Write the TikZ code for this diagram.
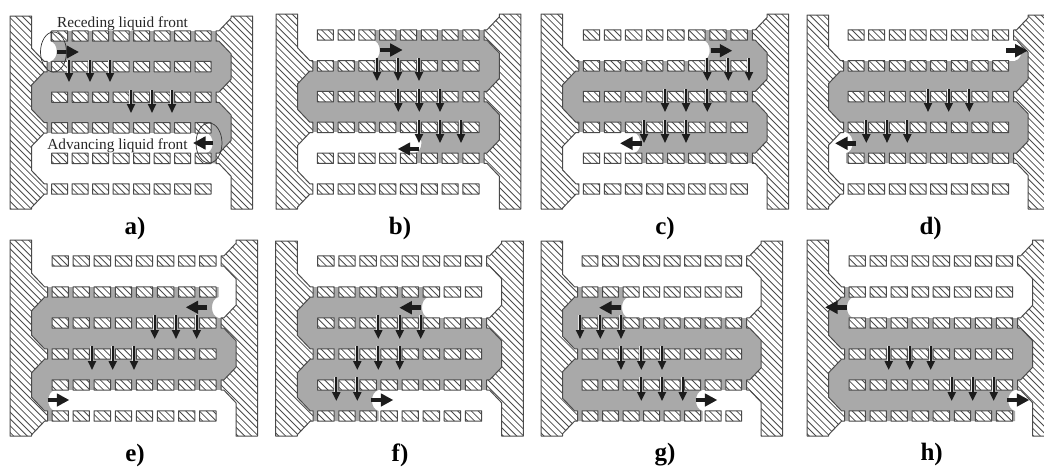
\documentclass[tikz,border=0pt]{standalone}
\usepackage{fontspec}
\setmainfont{Liberation Serif}
\usetikzlibrary{arrows.meta}
\definecolor{liqgrey}{HTML}{A9A9A9}
\definecolor{wallink}{HTML}{4A4A4A}
\definecolor{inkdark}{HTML}{1C1C1C}
\tikzset{
  liquid/.style={fill=liqgrey,draw=none},
  wallbody/.style={fill=white,draw=none},
  walledge/.style={draw=wallink,line width=1pt,line join=round},
  hatchline/.style={draw=wallink,line width=0.8pt},
  bigarrow/.style={draw=inkdark,line width=4.8pt,-{Triangle[length=12.5pt,width=12.5pt]}},
  downhalo/.style={draw=white!70!liqgrey,line width=2.8pt},
  downstem/.style={draw=inkdark,line width=2pt,-{Triangle[length=9pt,width=8pt]}},
  panellabel/.style={font=\fontsize{25}{27}\selectfont\bfseries,inner sep=0pt},
  notelabel/.style={font=\fontsize{15.3}{17}\selectfont,inner sep=0pt,text=black!85},
  ringmark/.style={draw=black!80,line width=0.7pt}
}
% panel geometry: plate left, first pillar x, last pillar end, right plate inner x, top, row 1 y, row pitch
\newcommand{\setpanel}[7]{%
  \def\xL{#1}\def\pA{#2}\def\pB{#3}\def\xR{#4}\def\yT{#5}\def\rA{#6}\def\rS{#7}%
  \pgfmathsetmacro\xLi{\xL+21.6}%
  \pgfmathsetmacro\xRo{\xR+21.6}%
  \pgfmathsetmacro\yB{\rA+5*\rS+20}%
  \pgfmathsetmacro\tipL{\pA-4.5}%
  \pgfmathsetmacro\tipR{\pB+5}%
  \pgfmathsetmacro\dL{\tipL-3-\xLi}%
  \pgfmathsetmacro\dR{\xR-\tipR-3}%
  \pgfmathsetmacro\pit{(\pB-\pA)/7.777}%
  \pgfmathsetmacro\pw{0.777*\pit}%
}
\newcommand{\chfull}[1]{%
  \fill[liquid] ({\xL+5},{\rA+(#1-1)*\rS-5}) rectangle ({\xR+5},{\rA+#1*\rS+5});}
% liquid right of the front
\newcommand{\chL}[2]{%
  \pgfmathsetmacro\ya{\rA+(#1-1)*\rS-5}\pgfmathsetmacro\yb{\rA+#1*\rS+5}%
  \fill[liquid] ({#2-7},{\ya}) -- ({#2-7},{\ya+10})
    .. controls ({#2+2},{\ya+12}) and ({#2+2},{\yb-12}) .. ({#2-7},{\yb-10})
    -- ({#2-7},{\yb}) -- ({\xR+5},{\yb}) -- ({\xR+5},{\ya}) -- cycle;}
% liquid left of the front
\newcommand{\chR}[2]{%
  \pgfmathsetmacro\ya{\rA+(#1-1)*\rS-5}\pgfmathsetmacro\yb{\rA+#1*\rS+5}%
  \fill[liquid] ({#2+7},{\ya}) -- ({#2+7},{\ya+10})
    .. controls ({#2-2},{\ya+12}) and ({#2-2},{\yb-12}) .. ({#2+7},{\yb-10})
    -- ({#2+7},{\yb}) -- ({\xL+5},{\yb}) -- ({\xL+5},{\ya}) -- cycle;}
\newcommand{\wallshape}{%
  ({\xL},{\yT}) -- ({\xLi},{\yT})
  \foreach \k in {2,4,6}{
    -- ({\xLi},{\rA+(\k-1)*\rS-5.2-\dL*1.05})
    -- ({\tipL-3},{\rA+(\k-1)*\rS-5.2})
    -- ({\tipL},{\rA+(\k-1)*\rS-5.2})
    -- ({\tipL},{\rA+(\k-1)*\rS+5.2})
    -- ({\tipL-3},{\rA+(\k-1)*\rS+5.2})
    -- ({\xLi},{\rA+(\k-1)*\rS+5.2+\dL*1.05})
  } -- ({\xLi},{\yB}) -- ({\xL},{\yB}) -- cycle
  ({\xR},{\yT})
  \foreach \k in {1,3,5}{
    -- ({\xR},{\rA+(\k-1)*\rS-5.2-\dR*1.05})
    -- ({\tipR+3},{\rA+(\k-1)*\rS-5.2})
    -- ({\tipR},{\rA+(\k-1)*\rS-5.2})
    -- ({\tipR},{\rA+(\k-1)*\rS+5.2})
    -- ({\tipR+3},{\rA+(\k-1)*\rS+5.2})
    -- ({\xR},{\rA+(\k-1)*\rS+5.2+\dR*1.05})
  } -- ({\xR},{\yB}) -- ({\xRo},{\yB}) -- ({\xRo},{\yT}) -- cycle
  \foreach \r in {0,...,5}{ \foreach \i in {0,...,7}{
    ({\pA+\i*\pit},{\rA+\r*\rS-5.2}) rectangle ({\pA+\i*\pit+\pw},{\rA+\r*\rS+5.2})
  }}
}
\newcommand{\drawwalls}{%
  \fill[wallbody] \wallshape;
  \begin{scope}
    \clip \wallshape;
    \foreach \c in {-470,-463.2,...,1050}{
      \draw[hatchline] (\c,0) -- ({\c+470},470);
    }
  \end{scope}
  \draw[walledge] \wallshape;
}
% one group of down arrows: list of x, y start, y end
\newcommand{\downs}[3]{%
  \foreach \dx in {#1}{
    \draw[downhalo] ({\dx-0.7},#2) -- ({\dx-0.7},{#3-8});
    \draw[downstem] (\dx,#2) -- (\dx,#3);
  }}
\newcommand{\fat}[3]{\draw[bigarrow] (#1,#3) -- (#2,#3);}
\begin{document}
\begin{tikzpicture}[x=1pt,y=-1pt]
\useasboundingbox (0,0) rectangle (1044,466);
\clip (0,0) rectangle (1044,466);
\fill[white] (0,0) rectangle (1044,466);

% a
\setpanel{10}{51.7}{211}{231}{16}{36}{30.6}
\chL{1}{57}\chfull{2}\chfull{3}\chL{4}{213}
\drawwalls
\downs{69,90,110}{60}{82}
\downs{131,152,172}{90}{113}
\fat{57}{79}{52}\fat{213}{193}{143}
\draw[ringmark] (53.5,52) ellipse [x radius=13,y radius=20];
\draw[ringmark] (209,143) ellipse [x radius=13,y radius=20];
\node[notelabel] (recede) at (122.5,24) {Receding liquid front};
\node[notelabel] (advance) at (117.5,146) {Advancing liquid front};
\node[panellabel] (la) at (135,228) {a)};

% b
\setpanel{276}{317.3}{479}{499.3}{14}{35}{30.8}
\chL{1}{380}\chfull{2}\chfull{3}\chL{4}{421.7}
\drawwalls
\downs{377,398,419}{58}{81}
\downs{398.3,419.3,440}{89}{112}
\downs{419,440,461}{120}{143}
\fat{380}{402.7}{50}\fat{419}{397.7}{149}
\node[panellabel] (lb) at (400,228) {b)};

% c
\setpanel{541}{583.3}{747.3}{767}{14}{35}{30.8}
\chL{1}{710}\chfull{2}\chfull{3}\chL{4}{640.7}
\drawwalls
\downs{707.3,728.3,749}{58}{81}
\downs{665,686,707.3}{89}{112}
\downs{644,665,686}{120}{143}
\fat{710.7}{732.3}{50.7}\fat{641.7}{620}{143.3}
\node[panellabel] (lc) at (665,228) {c)};

% d
\setpanel{807}{848}{1008.7}{1028}{15}{35}{30.8}
\chL{1}{1022}\chfull{2}\chfull{3}\chL{4}{853}
\drawwalls
\downs{928,948.7,969.3}{89}{112}
\downs{866.3,887,907.3}{120}{143}
\fat{1006}{1027.7}{50.7}\fat{856}{835}{143.3}
\node[panellabel] (ld) at (930.7,228) {d)};

% e
\setpanel{10}{52}{216}{236}{240}{261}{31}
\chR{2}{211.7}\chfull{3}\chfull{4}\chR{5}{48}
\drawwalls
\downs{154.7,176,196.7}{315}{339}
\downs{92,112.7,134}{346}{370}
\fat{207.3}{185.7}{307.3}\fat{47.7}{69.3}{400}
\node[panellabel] (le) at (135,455) {e)};

% f
\setpanel{275.7}{317.7}{481.7}{501.7}{241}{261}{31}
\chR{2}{421.7}\chfull{3}\chfull{4}\chR{5}{371.7}
\drawwalls
\downs{378.3,399.7,420.7}{315}{339}
\downs{357.3,378.3,399.7}{346}{370}
\downs{336.3,357.3}{377}{401}
\fat{420.7}{399.3}{307.7}\fat{371}{393.3}{400}
\node[panellabel] (lf) at (400,455) {f)};

% g
\setpanel{541}{582}{741.7}{761}{241}{261}{31}
\chR{2}{621.7}\chfull{3}\chfull{4}\chR{5}{695.7}
\drawwalls
\downs{580,600.3,621}{315}{339}
\downs{621,641.3,662}{346}{370}
\downs{641.3,662,682.7}{377}{401}
\fat{621}{599}{307.7}\fat{695.7}{717.3}{400}
\node[panellabel] (lg) at (665,455) {g)};

% h
\setpanel{807}{849}{1012.7}{1032.7}{240}{261}{31}
\chR{2}{846.7}\chfull{3}\chfull{4}\chR{5}{1008}
\drawwalls
\downs{888.7,909.7,930.7}{346}{370}
\downs{951.7,972.7,993.7}{377}{401}
\fat{846.7}{825}{307.3}\fat{1007.3}{1029.3}{400}
\node[panellabel] (lh) at (931.7,454) {h)};
\end{tikzpicture}
\end{document}
